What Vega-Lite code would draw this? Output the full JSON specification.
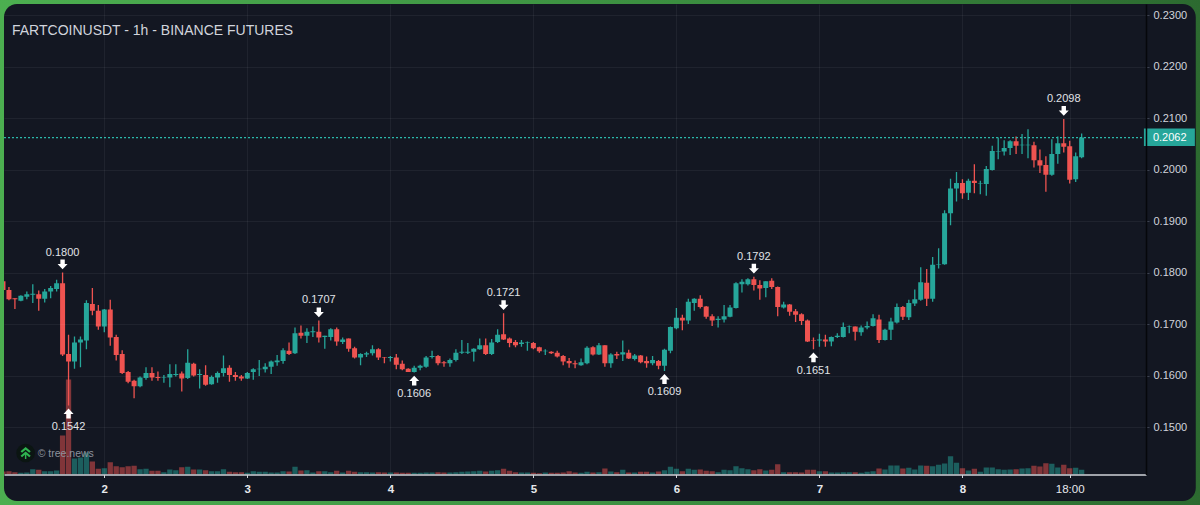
{
  "$schema": "https://vega.github.io/schema/vega-lite/v6.json",
  "width": 1142,
  "height": 470.5,
  "autosize": {"type": "none"},
  "padding": {"left": 4, "top": 4, "right": 54, "bottom": 30.5},
  "background": "#3a8c3f",
  "title": {"text": "FARTCOINUSDT - 1h - BINANCE FUTURES", "anchor": "start", "frame": "group", "offset": -38, "dx": 8, "fontSize": 14, "fontWeight": "normal", "color": "#d1d4dc"},
  "datasets": {
    "frame": [{"hour": -17.6, "hour2": 184, "top": 0.233, "bottom": 0.1347}],
    "panel": [{"hour": -16.83, "hour2": 183.15, "top": 0.23214, "bottom": 0.13563}],
    "last": [{"hour": -16.83, "hour2": 174.8, "price": 0.2062}],
    "tag": [{"hour": 174.45, "hour2": 183, "top": 0.20796, "bottom": 0.20456, "price": 0.2062, "label": "0.2062"}],
    "watermark": [{"hour": -13.2, "price": 0.14495, "label": "© tree.news"}],
    "extremes": [
      {"hour": -7, "price": 0.18, "label": "0.1800", "side": "high"},
      {"hour": -6, "price": 0.1542, "label": "0.1542", "side": "low"},
      {"hour": 36, "price": 0.1707, "label": "0.1707", "side": "high"},
      {"hour": 52, "price": 0.1606, "label": "0.1606", "side": "low"},
      {"hour": 67, "price": 0.1721, "label": "0.1721", "side": "high"},
      {"hour": 94, "price": 0.1609, "label": "0.1609", "side": "low"},
      {"hour": 109, "price": 0.1792, "label": "0.1792", "side": "high"},
      {"hour": 119, "price": 0.1651, "label": "0.1651", "side": "low"},
      {"hour": 161, "price": 0.2098, "label": "0.2098", "side": "high"}
    ],
    "candles": [
      {"hour":-17,"open":0.1783,"high":0.1783,"low":0.1766,"close":0.1766,"volume":3},
      {"hour":-16,"open":0.1766,"high":0.1772,"low":0.1746,"close":0.1748,"volume":3.3},
      {"hour":-15,"open":0.175,"high":0.175,"low":0.1729,"close":0.1748,"volume":2.3},
      {"hour":-14,"open":0.1745,"high":0.1756,"low":0.1744,"close":0.1755,"volume":1.7},
      {"hour":-13,"open":0.1753,"high":0.1763,"low":0.1748,"close":0.1758,"volume":2},
      {"hour":-12,"open":0.1757,"high":0.1777,"low":0.1741,"close":0.1759,"volume":5.3},
      {"hour":-11,"open":0.1758,"high":0.1765,"low":0.1726,"close":0.1749,"volume":4.7},
      {"hour":-10,"open":0.1749,"high":0.1768,"low":0.1742,"close":0.1763,"volume":3.3},
      {"hour":-9,"open":0.1763,"high":0.1774,"low":0.175,"close":0.177,"volume":3.3},
      {"hour":-8,"open":0.1768,"high":0.1786,"low":0.1763,"close":0.1779,"volume":4},
      {"hour":-7,"open":0.1779,"high":0.18,"low":0.1638,"close":0.1641,"volume":39},
      {"hour":-6,"open":0.1642,"high":0.1679,"low":0.1542,"close":0.1627,"volume":95},
      {"hour":-5,"open":0.1627,"high":0.1676,"low":0.1613,"close":0.1664,"volume":16},
      {"hour":-4,"open":0.1664,"high":0.1676,"low":0.1616,"close":0.167,"volume":17},
      {"hour":-3,"open":0.1668,"high":0.1746,"low":0.1651,"close":0.1741,"volume":22},
      {"hour":-2,"open":0.1739,"high":0.177,"low":0.1717,"close":0.1726,"volume":13},
      {"hour":-1,"open":0.1726,"high":0.1737,"low":0.1689,"close":0.1695,"volume":5.7},
      {"hour":0,"open":0.1695,"high":0.1729,"low":0.1684,"close":0.1728,"volume":6.3},
      {"hour":1,"open":0.1728,"high":0.1747,"low":0.1658,"close":0.1674,"volume":12.3},
      {"hour":2,"open":0.1675,"high":0.1679,"low":0.1629,"close":0.164,"volume":8.3},
      {"hour":3,"open":0.1642,"high":0.1649,"low":0.1603,"close":0.1605,"volume":7.3},
      {"hour":4,"open":0.1607,"high":0.1609,"low":0.1585,"close":0.1588,"volume":8.3},
      {"hour":5,"open":0.159,"high":0.1592,"low":0.1556,"close":0.1579,"volume":8.7},
      {"hour":6,"open":0.1579,"high":0.1598,"low":0.1577,"close":0.1596,"volume":5.3},
      {"hour":7,"open":0.1595,"high":0.1616,"low":0.1592,"close":0.1605,"volume":5.7},
      {"hour":8,"open":0.1605,"high":0.1616,"low":0.159,"close":0.1596,"volume":3.7},
      {"hour":9,"open":0.1597,"high":0.1608,"low":0.159,"close":0.1595,"volume":3.7},
      {"hour":10,"open":0.1596,"high":0.1601,"low":0.1586,"close":0.1597,"volume":2.3},
      {"hour":11,"open":0.1596,"high":0.1622,"low":0.1577,"close":0.1603,"volume":5},
      {"hour":12,"open":0.1601,"high":0.1622,"low":0.1598,"close":0.1603,"volume":4.3},
      {"hour":13,"open":0.1604,"high":0.1608,"low":0.1569,"close":0.1594,"volume":7.3},
      {"hour":14,"open":0.1595,"high":0.1651,"low":0.1593,"close":0.1625,"volume":7.7},
      {"hour":15,"open":0.1623,"high":0.1625,"low":0.1598,"close":0.16,"volume":5},
      {"hour":16,"open":0.1601,"high":0.1612,"low":0.1575,"close":0.1603,"volume":5},
      {"hour":17,"open":0.1601,"high":0.162,"low":0.158,"close":0.1582,"volume":4.3},
      {"hour":18,"open":0.1583,"high":0.16,"low":0.1582,"close":0.1597,"volume":3.3},
      {"hour":19,"open":0.1596,"high":0.1608,"low":0.1586,"close":0.1605,"volume":3.3},
      {"hour":20,"open":0.1605,"high":0.1639,"low":0.1598,"close":0.1614,"volume":5.3},
      {"hour":21,"open":0.1615,"high":0.162,"low":0.1588,"close":0.1601,"volume":2.7},
      {"hour":22,"open":0.1601,"high":0.1607,"low":0.159,"close":0.1597,"volume":2.3},
      {"hour":23,"open":0.1598,"high":0.1601,"low":0.159,"close":0.1594,"volume":2.3},
      {"hour":24,"open":0.1594,"high":0.1607,"low":0.1593,"close":0.1605,"volume":1.7},
      {"hour":25,"open":0.1607,"high":0.1614,"low":0.1592,"close":0.1612,"volume":3.3},
      {"hour":26,"open":0.1612,"high":0.163,"low":0.1599,"close":0.1613,"volume":2.7},
      {"hour":27,"open":0.1612,"high":0.1624,"low":0.1606,"close":0.1617,"volume":2.7},
      {"hour":28,"open":0.1617,"high":0.1629,"low":0.1603,"close":0.1627,"volume":2},
      {"hour":29,"open":0.1626,"high":0.164,"low":0.1619,"close":0.1629,"volume":2},
      {"hour":30,"open":0.1628,"high":0.1653,"low":0.1623,"close":0.1649,"volume":3.3},
      {"hour":31,"open":0.1648,"high":0.1664,"low":0.164,"close":0.1642,"volume":3},
      {"hour":32,"open":0.1643,"high":0.1693,"low":0.1642,"close":0.1682,"volume":7.7},
      {"hour":33,"open":0.1683,"high":0.1697,"low":0.1672,"close":0.1677,"volume":4},
      {"hour":34,"open":0.1677,"high":0.1692,"low":0.1663,"close":0.1685,"volume":4.3},
      {"hour":35,"open":0.1684,"high":0.1695,"low":0.1675,"close":0.1686,"volume":2},
      {"hour":36,"open":0.1685,"high":0.1707,"low":0.1664,"close":0.1674,"volume":3.3},
      {"hour":37,"open":0.1675,"high":0.1677,"low":0.1652,"close":0.1677,"volume":3.3},
      {"hour":38,"open":0.1675,"high":0.1692,"low":0.1668,"close":0.169,"volume":2.3},
      {"hour":39,"open":0.169,"high":0.1693,"low":0.1658,"close":0.1666,"volume":3.7},
      {"hour":40,"open":0.1665,"high":0.1674,"low":0.1661,"close":0.167,"volume":2},
      {"hour":41,"open":0.1672,"high":0.1672,"low":0.1646,"close":0.1652,"volume":3.7},
      {"hour":42,"open":0.1653,"high":0.1656,"low":0.1633,"close":0.1635,"volume":2.7},
      {"hour":43,"open":0.1635,"high":0.1643,"low":0.162,"close":0.1642,"volume":2.3},
      {"hour":44,"open":0.1641,"high":0.1646,"low":0.1636,"close":0.1643,"volume":2.3},
      {"hour":45,"open":0.1643,"high":0.1659,"low":0.1639,"close":0.1651,"volume":2},
      {"hour":46,"open":0.1651,"high":0.1653,"low":0.163,"close":0.1635,"volume":2.3},
      {"hour":47,"open":0.1636,"high":0.1636,"low":0.1624,"close":0.1635,"volume":2},
      {"hour":48,"open":0.1634,"high":0.1638,"low":0.1627,"close":0.1636,"volume":2},
      {"hour":49,"open":0.1635,"high":0.1642,"low":0.1612,"close":0.1621,"volume":2},
      {"hour":50,"open":0.1623,"high":0.1629,"low":0.161,"close":0.1612,"volume":1.7},
      {"hour":51,"open":0.1613,"high":0.1614,"low":0.1607,"close":0.1607,"volume":1.7},
      {"hour":52,"open":0.1607,"high":0.1619,"low":0.1606,"close":0.1615,"volume":1.7},
      {"hour":53,"open":0.1615,"high":0.1621,"low":0.161,"close":0.1619,"volume":1.7},
      {"hour":54,"open":0.1617,"high":0.1638,"low":0.1615,"close":0.1635,"volume":2},
      {"hour":55,"open":0.1636,"high":0.1648,"low":0.1633,"close":0.1638,"volume":2},
      {"hour":56,"open":0.1638,"high":0.164,"low":0.162,"close":0.1624,"volume":2.3},
      {"hour":57,"open":0.1626,"high":0.1628,"low":0.1617,"close":0.1624,"volume":2},
      {"hour":58,"open":0.1624,"high":0.1633,"low":0.1617,"close":0.163,"volume":2},
      {"hour":59,"open":0.163,"high":0.1651,"low":0.1627,"close":0.1644,"volume":2.3},
      {"hour":60,"open":0.1644,"high":0.1669,"low":0.1642,"close":0.1646,"volume":2.7},
      {"hour":61,"open":0.1644,"high":0.1663,"low":0.1642,"close":0.1646,"volume":3},
      {"hour":62,"open":0.1646,"high":0.1653,"low":0.1627,"close":0.1652,"volume":3.3},
      {"hour":63,"open":0.1651,"high":0.1672,"low":0.165,"close":0.1659,"volume":3.7},
      {"hour":64,"open":0.1659,"high":0.1672,"low":0.164,"close":0.1642,"volume":3},
      {"hour":65,"open":0.1642,"high":0.1671,"low":0.164,"close":0.1664,"volume":3.7},
      {"hour":66,"open":0.1665,"high":0.169,"low":0.1663,"close":0.1679,"volume":4.3},
      {"hour":67,"open":0.168,"high":0.1721,"low":0.1669,"close":0.167,"volume":5.7},
      {"hour":68,"open":0.1672,"high":0.1674,"low":0.1655,"close":0.1663,"volume":3.7},
      {"hour":69,"open":0.1665,"high":0.1669,"low":0.1655,"close":0.1659,"volume":2.3},
      {"hour":70,"open":0.1661,"high":0.1669,"low":0.1656,"close":0.1664,"volume":2},
      {"hour":71,"open":0.1663,"high":0.1666,"low":0.1648,"close":0.1664,"volume":2},
      {"hour":72,"open":0.1663,"high":0.1665,"low":0.1651,"close":0.1653,"volume":1.7},
      {"hour":73,"open":0.1655,"high":0.1656,"low":0.1644,"close":0.1647,"volume":1.3},
      {"hour":74,"open":0.1647,"high":0.1651,"low":0.164,"close":0.1648,"volume":2},
      {"hour":75,"open":0.1646,"high":0.1647,"low":0.1642,"close":0.1643,"volume":1.7},
      {"hour":76,"open":0.1644,"high":0.1648,"low":0.1635,"close":0.1637,"volume":1.7},
      {"hour":77,"open":0.1638,"high":0.164,"low":0.162,"close":0.1627,"volume":2},
      {"hour":78,"open":0.1628,"high":0.1634,"low":0.1615,"close":0.1624,"volume":3.3},
      {"hour":79,"open":0.1624,"high":0.1629,"low":0.1614,"close":0.1622,"volume":2},
      {"hour":80,"open":0.162,"high":0.1633,"low":0.1619,"close":0.1626,"volume":1.7},
      {"hour":81,"open":0.1624,"high":0.1657,"low":0.1622,"close":0.1654,"volume":2.7},
      {"hour":82,"open":0.1655,"high":0.1657,"low":0.1639,"close":0.1641,"volume":2},
      {"hour":83,"open":0.1641,"high":0.1663,"low":0.164,"close":0.1659,"volume":2.3},
      {"hour":84,"open":0.1659,"high":0.1659,"low":0.1617,"close":0.1624,"volume":6},
      {"hour":85,"open":0.1624,"high":0.1643,"low":0.1615,"close":0.1641,"volume":3},
      {"hour":86,"open":0.1642,"high":0.1646,"low":0.1632,"close":0.1639,"volume":2.3},
      {"hour":87,"open":0.1641,"high":0.1668,"low":0.1628,"close":0.1645,"volume":4.7},
      {"hour":88,"open":0.1644,"high":0.165,"low":0.1632,"close":0.1633,"volume":2},
      {"hour":89,"open":0.1632,"high":0.1642,"low":0.1629,"close":0.1639,"volume":2},
      {"hour":90,"open":0.1639,"high":0.164,"low":0.1624,"close":0.1626,"volume":2.7},
      {"hour":91,"open":0.1628,"high":0.1637,"low":0.1615,"close":0.1624,"volume":2.7},
      {"hour":92,"open":0.1624,"high":0.1638,"low":0.162,"close":0.163,"volume":2},
      {"hour":93,"open":0.1628,"high":0.163,"low":0.1612,"close":0.1619,"volume":3},
      {"hour":94,"open":0.1619,"high":0.1652,"low":0.1609,"close":0.165,"volume":4.3},
      {"hour":95,"open":0.1648,"high":0.1695,"low":0.1643,"close":0.1694,"volume":7.7},
      {"hour":96,"open":0.1692,"high":0.1731,"low":0.169,"close":0.1712,"volume":5.7},
      {"hour":97,"open":0.1712,"high":0.1718,"low":0.1688,"close":0.1707,"volume":3.3},
      {"hour":98,"open":0.1707,"high":0.1749,"low":0.17,"close":0.1743,"volume":5.7},
      {"hour":99,"open":0.1741,"high":0.175,"low":0.1726,"close":0.1749,"volume":4.7},
      {"hour":100,"open":0.1749,"high":0.1756,"low":0.173,"close":0.1733,"volume":5},
      {"hour":101,"open":0.1734,"high":0.1735,"low":0.171,"close":0.1714,"volume":3.7},
      {"hour":102,"open":0.1715,"high":0.1719,"low":0.1696,"close":0.1707,"volume":3.3},
      {"hour":103,"open":0.1708,"high":0.1715,"low":0.1693,"close":0.171,"volume":2.3},
      {"hour":104,"open":0.1709,"high":0.1737,"low":0.1703,"close":0.1715,"volume":4.7},
      {"hour":105,"open":0.1714,"high":0.1737,"low":0.1713,"close":0.1732,"volume":4.3},
      {"hour":106,"open":0.1731,"high":0.1781,"low":0.173,"close":0.1779,"volume":8.3},
      {"hour":107,"open":0.1777,"high":0.1787,"low":0.1761,"close":0.1782,"volume":6.3},
      {"hour":108,"open":0.1777,"high":0.1789,"low":0.1775,"close":0.1787,"volume":5.3},
      {"hour":109,"open":0.1787,"high":0.1792,"low":0.1765,"close":0.1776,"volume":4.3},
      {"hour":110,"open":0.1776,"high":0.1785,"low":0.1747,"close":0.1769,"volume":5.3},
      {"hour":111,"open":0.177,"high":0.1783,"low":0.1752,"close":0.1783,"volume":4},
      {"hour":112,"open":0.1784,"high":0.1789,"low":0.1768,"close":0.1772,"volume":4.7},
      {"hour":113,"open":0.1772,"high":0.1773,"low":0.1715,"close":0.1733,"volume":10.3},
      {"hour":114,"open":0.1732,"high":0.1743,"low":0.173,"close":0.1738,"volume":2.3},
      {"hour":115,"open":0.1738,"high":0.1739,"low":0.1716,"close":0.1724,"volume":2.3},
      {"hour":116,"open":0.1725,"high":0.1729,"low":0.1704,"close":0.1718,"volume":2.3},
      {"hour":117,"open":0.1719,"high":0.1721,"low":0.1698,"close":0.1706,"volume":2},
      {"hour":118,"open":0.1707,"high":0.1709,"low":0.1665,"close":0.1666,"volume":4.7},
      {"hour":119,"open":0.1668,"high":0.1674,"low":0.1651,"close":0.1667,"volume":4.7},
      {"hour":120,"open":0.1668,"high":0.1681,"low":0.1656,"close":0.167,"volume":3.3},
      {"hour":121,"open":0.167,"high":0.1679,"low":0.1656,"close":0.1666,"volume":3.3},
      {"hour":122,"open":0.1666,"high":0.1676,"low":0.1657,"close":0.1675,"volume":2},
      {"hour":123,"open":0.1675,"high":0.1682,"low":0.1673,"close":0.1677,"volume":2},
      {"hour":124,"open":0.1675,"high":0.1703,"low":0.1674,"close":0.1694,"volume":2.3},
      {"hour":125,"open":0.1694,"high":0.1697,"low":0.1682,"close":0.1695,"volume":2.3},
      {"hour":126,"open":0.1695,"high":0.1695,"low":0.1668,"close":0.1685,"volume":2.3},
      {"hour":127,"open":0.1684,"high":0.1697,"low":0.1677,"close":0.1693,"volume":1.7},
      {"hour":128,"open":0.1693,"high":0.1705,"low":0.169,"close":0.1696,"volume":2.7},
      {"hour":129,"open":0.1696,"high":0.1719,"low":0.1695,"close":0.1711,"volume":3.3},
      {"hour":130,"open":0.1709,"high":0.1718,"low":0.1663,"close":0.1669,"volume":6},
      {"hour":131,"open":0.1669,"high":0.1691,"low":0.1668,"close":0.1689,"volume":5},
      {"hour":132,"open":0.1689,"high":0.1712,"low":0.1669,"close":0.1705,"volume":9},
      {"hour":133,"open":0.1703,"high":0.174,"low":0.1701,"close":0.1733,"volume":9},
      {"hour":134,"open":0.1733,"high":0.1735,"low":0.1708,"close":0.1714,"volume":6},
      {"hour":135,"open":0.1713,"high":0.1747,"low":0.1708,"close":0.1741,"volume":6.7},
      {"hour":136,"open":0.174,"high":0.1767,"low":0.1735,"close":0.1748,"volume":5},
      {"hour":137,"open":0.1747,"high":0.181,"low":0.1745,"close":0.1781,"volume":9},
      {"hour":138,"open":0.178,"high":0.1807,"low":0.1735,"close":0.1749,"volume":8.7},
      {"hour":139,"open":0.1749,"high":0.183,"low":0.1743,"close":0.1815,"volume":8.3},
      {"hour":140,"open":0.1815,"high":0.1847,"low":0.1808,"close":0.1816,"volume":9.7},
      {"hour":141,"open":0.1816,"high":0.1921,"low":0.1815,"close":0.1915,"volume":11},
      {"hour":142,"open":0.1915,"high":0.1982,"low":0.1892,"close":0.1963,"volume":18.3},
      {"hour":143,"open":0.1963,"high":0.1995,"low":0.1938,"close":0.1974,"volume":11.7},
      {"hour":144,"open":0.1974,"high":0.1981,"low":0.1943,"close":0.1954,"volume":6.3},
      {"hour":145,"open":0.1955,"high":0.1982,"low":0.1941,"close":0.1978,"volume":4},
      {"hour":146,"open":0.1978,"high":0.201,"low":0.1954,"close":0.1974,"volume":5.7},
      {"hour":147,"open":0.1973,"high":0.1978,"low":0.1952,"close":0.1974,"volume":2.7},
      {"hour":148,"open":0.1972,"high":0.2007,"low":0.1949,"close":0.2001,"volume":7},
      {"hour":149,"open":0.1999,"high":0.2046,"low":0.1998,"close":0.2036,"volume":7},
      {"hour":150,"open":0.2035,"high":0.2062,"low":0.202,"close":0.2036,"volume":5.3},
      {"hour":151,"open":0.2035,"high":0.2057,"low":0.2027,"close":0.2042,"volume":4.7},
      {"hour":152,"open":0.2042,"high":0.2057,"low":0.2028,"close":0.2055,"volume":5},
      {"hour":153,"open":0.2055,"high":0.2064,"low":0.203,"close":0.2046,"volume":5.3},
      {"hour":154,"open":0.2047,"high":0.2069,"low":0.203,"close":0.2048,"volume":6},
      {"hour":155,"open":0.2047,"high":0.2078,"low":0.2022,"close":0.2048,"volume":6.3},
      {"hour":156,"open":0.2047,"high":0.2054,"low":0.2004,"close":0.2018,"volume":8.7},
      {"hour":157,"open":0.2018,"high":0.2039,"low":0.1993,"close":0.2008,"volume":8},
      {"hour":158,"open":0.2009,"high":0.2026,"low":0.1957,"close":0.199,"volume":11.3},
      {"hour":159,"open":0.199,"high":0.2059,"low":0.1988,"close":0.203,"volume":10.7},
      {"hour":160,"open":0.203,"high":0.2064,"low":0.2011,"close":0.2051,"volume":7},
      {"hour":161,"open":0.2051,"high":0.2098,"low":0.2033,"close":0.2044,"volume":9.7},
      {"hour":162,"open":0.2045,"high":0.2056,"low":0.1973,"close":0.198,"volume":6.3},
      {"hour":163,"open":0.1981,"high":0.2033,"low":0.1976,"close":0.2026,"volume":6.7},
      {"hour":164,"open":0.2024,"high":0.207,"low":0.2022,"close":0.2062,"volume":4.7}
    ]
  },
  "encoding": {
    "x": {
      "field": "hour",
      "type": "quantitative",
      "scale": {"domain": [-16.83, 174.8], "nice": false, "zero": false, "padding": 0},
      "axis": {
        "title": null,
        "orient": "bottom",
        "values": [0, 24, 48, 72, 96, 120, 144, 162],
        "labelExpr": "datum.value == 162 ? '18:00' : '' + (2 + datum.value / 24)",
        "labelFontWeight": {"expr": "datum.value == 162 ? 'normal' : 'bold'"},
        "labelColor": "#e6e8ec",
        "labelFontSize": 11.5,
        "labelPadding": 6,
        "labelFlush": false,
        "labelOverlap": false,
        "domainColor": "#d0d3d8",
        "domainWidth": 1.5,
        "tickColor": "#d0d3d8",
        "tickSize": 3,
        "grid": true,
        "gridColor": "#ffffff",
        "gridOpacity": 0.055,
        "zindex": 1
      }
    }
  },
  "layer": [
    {
      "data": {"name": "frame"},
      "mark": {"type": "rect", "clip": false, "color": {"gradient": "linear", "x1": 0, "y1": 0, "x2": 1, "y2": 0, "stops": [{"offset": 0, "color": "#4caf50"}, {"offset": 0.6, "color": "#3a8c3f"}, {"offset": 1, "color": "#2c6a30"}]}},
      "encoding": {
        "x2": {"field": "hour2"},
        "y": {"field": "top", "type": "quantitative", "scale": {"domain": [0.14078, 0.23214], "nice": false, "zero": false}, "axis": null},
        "y2": {"field": "bottom"}
      }
    },
    {
      "data": {"name": "panel"},
      "mark": {"type": "rect", "clip": false, "color": "#131722", "cornerRadius": 13},
      "encoding": {
        "x2": {"field": "hour2"},
        "y": {"field": "top", "type": "quantitative", "scale": {"domain": [0.14078, 0.23214], "nice": false, "zero": false}, "axis": null},
        "y2": {"field": "bottom"}
      }
    },
    {
      "data": {"name": "candles"},
      "mark": {"type": "bar", "orient": "vertical", "size": 5.3, "opacity": 0.5, "clip": true},
      "encoding": {
        "y": {"field": "volume", "type": "quantitative", "scale": {"domain": [0, 470.5], "nice": false}, "axis": null},
        "color": {"condition": {"test": "datum.close >= datum.open", "value": "#26a69a"}, "value": "#ef5350"}
      }
    },
    {
      "data": {"name": "candles"},
      "mark": {"type": "rule", "strokeWidth": 1.3, "opacity": 1, "clip": true},
      "encoding": {
        "y": {
          "field": "high",
          "type": "quantitative",
          "scale": {"domain": [0.14078, 0.23214], "nice": false, "zero": false},
          "axis": {
            "title": null,
            "orient": "right",
            "values": [0.15, 0.16, 0.17, 0.18, 0.19, 0.2, 0.21, 0.22, 0.23],
            "format": ".4f",
            "labelColor": "#d1d4dc",
            "labelFontSize": 11,
            "labelPadding": 4,
            "domainColor": "#05070b",
            "domainWidth": 1.5,
            "tickColor": "#3c4250",
            "tickSize": 3,
            "grid": true,
            "gridColor": "#ffffff",
            "gridOpacity": 0.055,
            "zindex": 1
          }
        },
        "y2": {"field": "low"},
        "color": {"condition": {"test": "datum.close >= datum.open", "value": "#26a69a"}, "value": "#ef5350"}
      }
    },
    {
      "data": {"name": "candles"},
      "mark": {"type": "bar", "size": 5, "clip": true},
      "encoding": {
        "y": {"field": "open", "type": "quantitative", "scale": {"domain": [0.14078, 0.23214], "nice": false, "zero": false}, "axis": null},
        "y2": {"field": "close"},
        "color": {"condition": {"test": "datum.close >= datum.open", "value": "#26a69a"}, "value": "#ef5350"}
      }
    },
    {
      "data": {"name": "last"},
      "mark": {"type": "rule", "color": "#2bb8aa", "strokeWidth": 1.3, "strokeDash": [2, 2]},
      "encoding": {
        "x2": {"field": "hour2"},
        "y": {"field": "price", "type": "quantitative", "scale": {"domain": [0.14078, 0.23214], "nice": false, "zero": false}, "axis": null}
      }
    },
    {
      "data": {"name": "tag"},
      "mark": {"type": "rect", "clip": false, "color": "#26a69a"},
      "encoding": {
        "x2": {"field": "hour2"},
        "y": {"field": "top", "type": "quantitative", "scale": {"domain": [0.14078, 0.23214], "nice": false, "zero": false}, "axis": null},
        "y2": {"field": "bottom"}
      }
    },
    {
      "data": {"name": "tag"},
      "mark": {"type": "text", "align": "left", "baseline": "middle", "dx": 9, "color": "#ffffff", "fontSize": 11, "clip": false},
      "encoding": {
        "y": {"field": "price", "type": "quantitative", "scale": {"domain": [0.14078, 0.23214], "nice": false, "zero": false}, "axis": null},
        "text": {"field": "label"}
      }
    },
    {
      "data": {"name": "extremes"},
      "transform": [{"filter": "datum.side == 'high'"}],
      "mark": {"type": "point", "filled": true, "opacity": 1, "color": "#ffffff", "size": 400, "shape": "M-0.22,-1.3 L0.22,-1.3 L0.22,-0.85 L0.5,-0.85 L0,-0.32 L-0.5,-0.85 L-0.22,-0.85 Z"},
      "encoding": {
        "y": {"field": "price", "type": "quantitative", "scale": {"domain": [0.14078, 0.23214], "nice": false, "zero": false}, "axis": null}
      }
    },
    {
      "data": {"name": "extremes"},
      "transform": [{"filter": "datum.side == 'low'"}],
      "mark": {"type": "point", "filled": true, "opacity": 1, "color": "#ffffff", "size": 400, "shape": "M-0.22,1.3 L0.22,1.3 L0.22,0.85 L0.5,0.85 L0,0.32 L-0.5,0.85 L-0.22,0.85 Z"},
      "encoding": {
        "y": {"field": "price", "type": "quantitative", "scale": {"domain": [0.14078, 0.23214], "nice": false, "zero": false}, "axis": null}
      }
    },
    {
      "data": {"name": "extremes"},
      "transform": [{"filter": "datum.side == 'high'"}],
      "mark": {"type": "text", "baseline": "middle", "dy": -20, "color": "#e0e3e8", "fontSize": 11},
      "encoding": {
        "y": {"field": "price", "type": "quantitative", "scale": {"domain": [0.14078, 0.23214], "nice": false, "zero": false}, "axis": null},
        "text": {"field": "label"}
      }
    },
    {
      "data": {"name": "extremes"},
      "transform": [{"filter": "datum.side == 'low'"}],
      "mark": {"type": "text", "baseline": "middle", "dy": 21.5, "color": "#e0e3e8", "fontSize": 11},
      "encoding": {
        "y": {"field": "price", "type": "quantitative", "scale": {"domain": [0.14078, 0.23214], "nice": false, "zero": false}, "axis": null},
        "text": {"field": "label"}
      }
    },
    {
      "data": {"name": "watermark"},
      "mark": {"type": "point", "shape": "circle", "filled": true, "opacity": 1, "color": "#0b1512", "size": 346},
      "encoding": {
        "y": {"field": "price", "type": "quantitative", "scale": {"domain": [0.14078, 0.23214], "nice": false, "zero": false}, "axis": null}
      }
    },
    {
      "data": {"name": "watermark"},
      "mark": {"type": "point", "filled": true, "opacity": 1, "color": "#2fb350", "size": 144, "shape": "M0,-1 L0.85,-0.3 L0.6,-0.05 L0,-0.55 L-0.6,-0.05 L-0.85,-0.3 Z M0,-0.25 L0.85,0.45 L0.6,0.7 L0.12,0.3 L0.12,1 L-0.12,1 L-0.12,0.3 L-0.6,0.7 L-0.85,0.45 Z"},
      "encoding": {
        "y": {"field": "price", "type": "quantitative", "scale": {"domain": [0.14078, 0.23214], "nice": false, "zero": false}, "axis": null}
      }
    },
    {
      "data": {"name": "watermark"},
      "mark": {"type": "text", "align": "left", "baseline": "middle", "dx": 12, "dy": 1, "color": "#8d929c", "fontSize": 10.5},
      "encoding": {
        "y": {"field": "price", "type": "quantitative", "scale": {"domain": [0.14078, 0.23214], "nice": false, "zero": false}, "axis": null},
        "text": {"field": "label"}
      }
    }
  ],
  "resolve": {"scale": {"y": "independent"}, "axis": {"y": "independent"}},
  "config": {
    "font": "Liberation Sans",
    "view": {"stroke": null}
  }
}
